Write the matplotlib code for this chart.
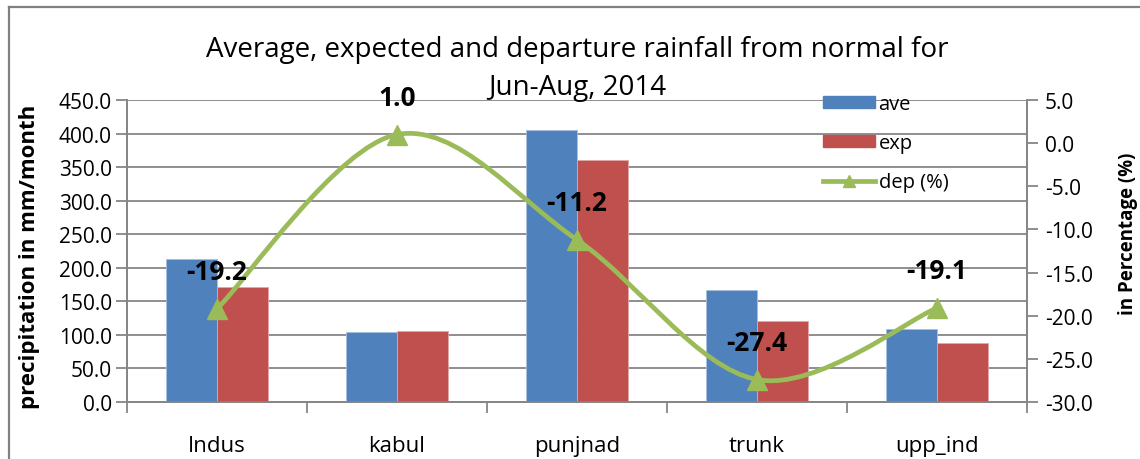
import matplotlib
matplotlib.use("Agg")
import matplotlib.pyplot as plt
import numpy as np
from matplotlib.path import Path
from matplotlib.patches import PathPatch
from matplotlib.lines import Line2D

plt.rcParams['font.family'] = ['Open Sans', 'DejaVu Sans']

basins = ['Indus', 'kabul', 'punjnad', 'trunk', 'upp_ind']
ave = [213, 104, 405, 167, 109]
exp_ = [171, 106, 360, 121, 88]
dep = [-19.2, 1.0, -11.2, -27.4, -19.1]

blue = '#4F81BD'
red = '#C0504D'
green = '#9BBB59'
grey = '#868686'

fig = plt.figure(figsize=(11.4, 4.6), dpi=100)
ax = fig.add_axes([127/1140, 1 - 403/460, 900/1140, 302/460])
ax2 = ax.twinx()

x = np.arange(len(basins))
w = 0.285
ax.bar(x - w/2, ave, w, color=blue, edgecolor='#a8c0e0', linewidth=0.6, zorder=3, label='ave')
ax.bar(x + w/2, exp_, w, color=red, edgecolor='#e0a8a6', linewidth=0.6, zorder=3, label='exp')

ax.set_xlim(-0.5, len(basins) - 0.5)
ax.set_ylim(0, 450)
ax.set_yticks(np.arange(0, 451, 50))
ax.set_yticklabels(['%.1f' % v for v in np.arange(0, 451, 50)])
ax.yaxis.grid(True, color=grey, linewidth=1.3, zorder=0)
ax.set_axisbelow(True)
ax.set_xticks(x)
ax.set_xticklabels(basins)
ax.set_xticks(np.arange(-0.5, len(basins)), minor=True)
ax.tick_params(axis='x', which='major', length=0, labelsize=16, pad=24)
ax.tick_params(axis='x', which='minor', length=8, color=grey, width=1.3)
ax.tick_params(axis='y', length=8, color=grey, width=1.3, labelsize=15, pad=3)

ax2.set_ylim(-30, 5)
ax2.set_yticks(np.arange(-30, 5.1, 5))
ax2.set_yticklabels(['%.1f' % v for v in np.arange(-30, 5.1, 5)])
ax2.tick_params(axis='y', length=8, color=grey, width=1.3, labelsize=15, pad=5)

for a in (ax, ax2):
    for s in a.spines.values():
        s.set_color(grey)
        s.set_linewidth(1.3)
    a.spines['top'].set_visible(False)

# smoothed departure line (Catmull-Rom style bezier between points)
P = np.column_stack([x.astype(float), dep])
verts = [tuple(P[0])]
codes = [Path.MOVETO]
n = len(P)
for i in range(n - 1):
    p0 = P[max(i - 1, 0)]
    p1 = P[i]
    p2 = P[i + 1]
    p3 = P[min(i + 2, n - 1)]
    c1 = p1 + (p2 - p0) / 6
    c2 = p2 - (p3 - p1) / 6
    verts += [tuple(c1), tuple(c2), tuple(p2)]
    codes += [Path.CURVE4] * 3
ax2.add_patch(PathPatch(Path(verts, codes), facecolor='none', edgecolor=green,
                        linewidth=3.4, capstyle='round', zorder=4))
ax2.plot(x, dep, linestyle='none', marker='^', markersize=14, color=green, zorder=5)

for xi, d in zip(x, dep):
    ax2.annotate('%.1f' % d, (xi, d), xytext=(0, 27), textcoords='offset points',
                 ha='center', va='center', fontsize=19, fontweight='bold', zorder=6)

fig.text(577/1140, 1 - 50/460, 'Average, expected and departure rainfall from normal for',
         ha='center', va='center', fontsize=20)
fig.text(577/1140, 1 - 88/460, 'Jun-Aug, 2014', ha='center', va='center', fontsize=20)

fig.text(30/1140, 1 - 257/460, 'precipitation in mm/month', rotation=90, ha='center', va='center',
         fontsize=16, fontweight='bold')
fig.text(1128/1140, 1 - 234/460, 'in Percentage (%)', rotation=90, ha='center', va='center',
         fontsize=13.5, fontweight='bold')

handles = [plt.Rectangle((0, 0), 1, 1, color=blue),
           plt.Rectangle((0, 0), 1, 1, color=red),
           Line2D([], [], color=green, linewidth=3.4, marker='^', markersize=9)]
leg = fig.legend(handles, ['ave', 'exp', 'dep (%)'], loc='upper left',
                 bbox_to_anchor=(805/1140, 1 - 77/460), frameon=False, fontsize=14.5,
                 handlelength=2.6, handleheight=0.55, handletextpad=0.15, labelspacing=0.95)

# chart frame (top and left edges visible)
fig.add_artist(Line2D([8.5/1140, 1], [1 - 7.5/460, 1 - 7.5/460], color='#808080', linewidth=1.6))
fig.add_artist(Line2D([8.5/1140, 8.5/1140], [0, 1 - 7.5/460], color='#808080', linewidth=1.6))

fig.savefig('out.png', dpi=100)
